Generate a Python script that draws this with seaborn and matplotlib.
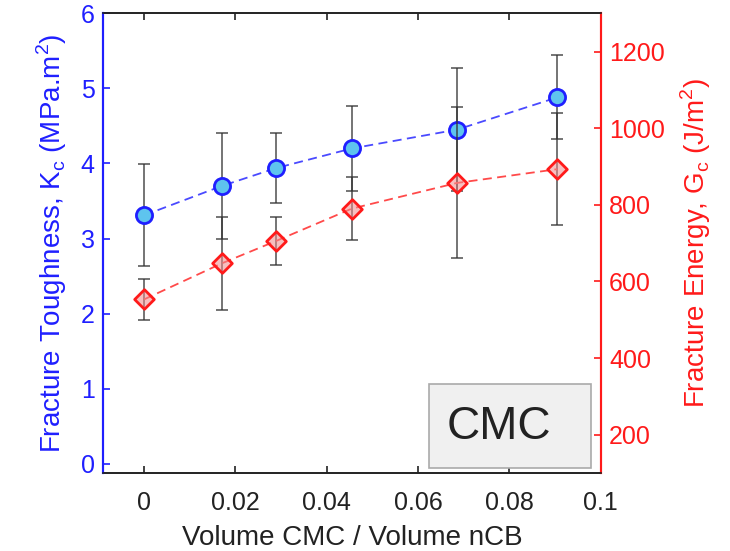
import matplotlib
matplotlib.use("Agg")
import matplotlib.pyplot as plt
import seaborn as sns
from matplotlib.patches import Rectangle

# data
ratio = [0.0, 0.017, 0.029, 0.0455, 0.0685, 0.0905]
kc = [3.31, 3.70, 3.94, 4.20, 4.45, 4.88]
kc_err = [0.68, 0.70, 0.46, 0.56, 0.82, 0.56]
gc = [553, 647, 706, 790, 857, 893]
gc_err = [53, 122, 63, 83, 197, 147]
xtick_vals = [0, 0.02, 0.04, 0.06, 0.08, 0.1]
xtick_labels = ["0", "0.02", "0.04", "0.06", "0.08", "0.1"]

sns.set_style("ticks")
plt.rcParams["font.family"] = ["Liberation Sans", "DejaVu Sans"]

blue = "#1f1fff"
red = "#ff1a1a"
dark = "#222222"

fig = plt.figure(figsize=(7.3, 5.51), dpi=100)
ax = fig.add_axes([0.141, 0.1416, 0.682, 0.8344])
ax2 = ax.twinx()

# error bars (behind markers)
ax.errorbar(ratio, kc, yerr=kc_err, fmt="none", ecolor="#333333", alpha=0.8,
            elinewidth=1.2, capsize=4, capthick=1.2, zorder=1)
ax2.errorbar(ratio, gc, yerr=gc_err, fmt="none", ecolor="#333333", alpha=0.8,
             elinewidth=1.2, capsize=4, capthick=1.2, zorder=1)

# dashed trend lines
sns.lineplot(x=ratio, y=kc, ax=ax, color="#4a4aff", linestyle=(0, (5, 3)), linewidth=1.3, zorder=2)
sns.lineplot(x=ratio, y=gc, ax=ax2, color="#ff4a4a", linestyle=(0, (5, 3)), linewidth=1.3, zorder=2)

# markers
sns.scatterplot(x=ratio, y=kc, ax=ax, marker="o", s=135, color="#5ec4ee",
                edgecolor=blue, linewidth=2, zorder=3)
sns.scatterplot(x=ratio, y=gc, ax=ax2, marker="D", s=100, color=(0.95, 0.55, 0.55, 0.55),
                edgecolor=red, linewidth=2, zorder=3)

ax.set_xlim(-0.009, 0.1)
ax.set_ylim(-0.12, 6)
ax2.set_ylim(100, 1300)

ax.set_xticks(xtick_vals)
ax.set_xticklabels(xtick_labels)
ax.set_yticks(range(0, 7))
ax2.set_yticks(range(200, 1201, 200))

ax.tick_params(axis="x", direction="in", top=True, length=5, width=1.2,
               colors=dark, labelsize=18, pad=13, labelcolor=dark)
ax.tick_params(axis="y", direction="in", length=5, width=1.2, colors=blue,
               labelsize=18, labelcolor=blue, pad=6)
ax2.tick_params(axis="y", direction="in", length=5, width=1.2, colors=red,
                labelsize=18, labelcolor=red, pad=6)

for a in (ax, ax2):
    a.spines["top"].set_color(dark)
    a.spines["bottom"].set_color(dark)
    a.spines["top"].set_linewidth(1.2)
    a.spines["bottom"].set_linewidth(1.2)
    a.spines["left"].set_color(blue)
    a.spines["right"].set_color(red)
    a.spines["left"].set_linewidth(1.5)
    a.spines["right"].set_linewidth(1.5)

ax.set_xlabel("Volume CMC / Volume nCB", fontsize=20, color=dark, labelpad=7)
ax.set_ylabel(r"Fracture Toughness, K$_\mathregular{c}$ (MPa.m$^\mathregular{2}$)",
              fontsize=20, color=blue, labelpad=8)
ax2.set_ylabel(r"Fracture Energy, G$_\mathregular{c}$ (J/m$^\mathregular{2}$)",
               fontsize=20, color=red, labelpad=10)

# CMC annotation box
ax.add_patch(Rectangle((0.655, 0.011), 0.325, 0.182, transform=ax.transAxes,
                       facecolor="#f0f0f0", edgecolor="#aaaaaa", linewidth=1.2, zorder=4))
ax.text(0.795, 0.10, "CMC", transform=ax.transAxes, fontsize=33, color=dark,
        ha="center", va="center", zorder=5)

fig.savefig("out.png", dpi=100)
